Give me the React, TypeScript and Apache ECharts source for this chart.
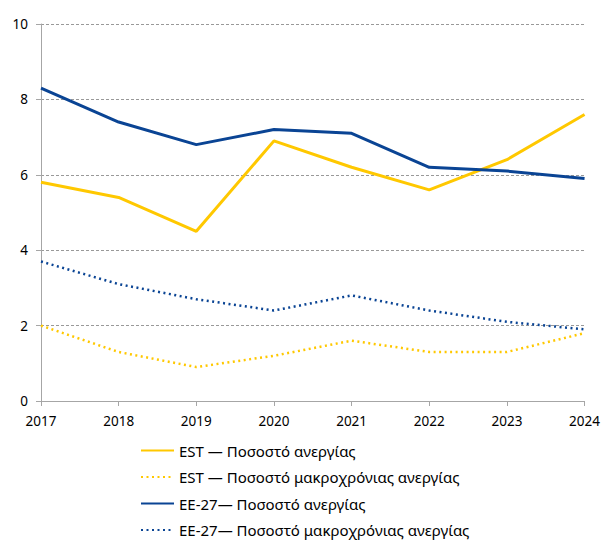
import React, { useEffect, useRef } from "react";
import * as echarts from "echarts";

const years = ["2017", "2018", "2019", "2020", "2021", "2022", "2023", "2024"];
const estUnemp = [5.8, 5.4, 4.5, 6.9, 6.2, 5.6, 6.4, 7.6];
const estLong = [2.0, 1.3, 0.9, 1.2, 1.6, 1.3, 1.3, 1.8];
const euUnemp = [8.3, 7.4, 6.8, 7.2, 7.1, 6.2, 6.1, 5.9];
const euLong = [3.7, 3.1, 2.7, 2.4, 2.8, 2.4, 2.1, 1.9];
const names = [
  "EST — Ποσοστό ανεργίας",
  "EST — Ποσοστό μακροχρόνιας ανεργίας",
  "ΕΕ-27— Ποσοστό ανεργίας",
  "ΕΕ-27— Ποσοστό μακροχρόνιας ανεργίας",
];

const YELLOW = "#FFC800";
const BLUE = "#0A4494";
const FONT = "'Noto Sans', sans-serif";

export default function App() {
  const ref = useRef<HTMLDivElement>(null);
  useEffect(() => {
    const chart = echarts.init(ref.current!, null, { renderer: "svg" });
    const mk = (name: string, data: number[], color: string, dotted: boolean) => ({
      name,
      type: "line",
      data,
      symbol: "none",
      color,
      lineStyle: { color, width: dotted ? 2.5 : 3, type: dotted ? [2, 3.5] : "solid" },
    });
    chart.setOption({
      animation: false,
      textStyle: { fontFamily: FONT },
      grid: { left: 41, right: 15, top: 24, bottom: 139 },
      legend: {
        orient: "vertical",
        left: 140,
        top: 443,
        height: 110,
        padding: 0,
        itemWidth: 33,
        itemHeight: 14,
        itemGap: 11.5,
        itemStyle: { opacity: 0 },
        textStyle: { fontFamily: FONT, fontSize: 15, color: "#000" },
        data: names,
      },
      xAxis: {
        type: "category",
        data: years,
        boundaryGap: false,
        axisLine: { lineStyle: { color: "#a6a6a6", width: 1 } },
        axisTick: { show: true, length: 5, lineStyle: { color: "#a6a6a6" } },
        axisLabel: { color: "#000", fontSize: 13.5, margin: 13, fontFamily: FONT },
      },
      yAxis: {
        type: "value",
        min: 0,
        max: 10,
        interval: 2,
        axisLine: { show: true, lineStyle: { color: "#a6a6a6", width: 1 } },
        axisTick: { show: true, length: 5, lineStyle: { color: "#a6a6a6" } },
        axisLabel: { color: "#000", fontSize: 13.5, margin: 13, fontFamily: FONT },
        splitLine: { lineStyle: { color: "#999", type: [3, 2], width: 1 } },
      },
      series: [
        mk(names[0], estUnemp, YELLOW, false),
        mk(names[1], estLong, YELLOW, true),
        mk(names[2], euUnemp, BLUE, false),
        mk(names[3], euLong, BLUE, true),
      ],
    });
    return () => chart.dispose();
  }, []);
  return (
    <div
      ref={ref}
      style={{ position: "absolute", left: 0, top: 0, width: 603, height: 540 }}
    />
  );
}
